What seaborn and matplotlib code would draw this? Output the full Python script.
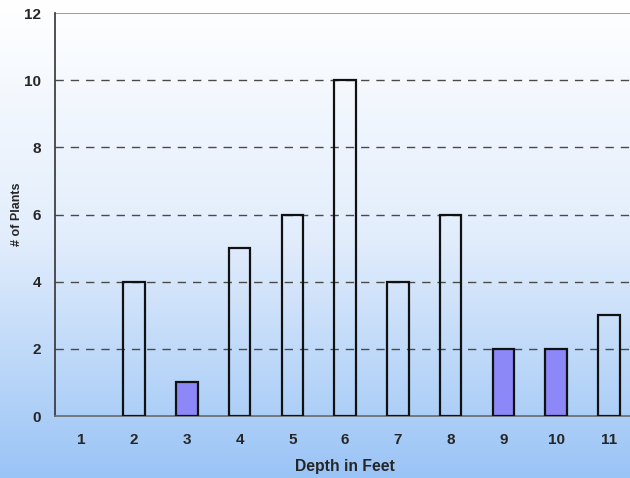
import numpy as np
import pandas as pd
import matplotlib
matplotlib.use("Agg")
import matplotlib.pyplot as plt
import seaborn as sns
from matplotlib.colors import LinearSegmentedColormap

depths = ["1", "2", "3", "4", "5", "6", "7", "8", "9", "10", "11"]
plants = [0, 4, 1, 5, 6, 10, 4, 6, 2, 2, 3]
highlight = [False, False, True, False, False, False, False, False, True, True, False]

df = pd.DataFrame({"depth": depths, "plants": plants})

sns.set_style("white")
plt.rcParams["font.family"] = ["Liberation Sans", "DejaVu Sans"]

fig = plt.figure(figsize=(6.3, 4.78), dpi=100)

# background gradient over the whole figure
bg = fig.add_axes([0, 0, 1, 1], zorder=-10)
cmap = LinearSegmentedColormap.from_list("bg", ["#FFFFFF", "#E2EDFC", "#9AC4F6"])
grad = np.linspace(0, 1, 256).reshape(-1, 1)
bg.imshow(grad, aspect="auto", cmap=cmap, extent=[0, 1, 0, 1], origin="upper")
bg.axis("off")

ax = fig.add_axes([0.0873, 0.1297, 0.921, 0.8431])
ax.patch.set_alpha(0)

sns.barplot(data=df, x="depth", y="plants", ax=ax, width=0.41,
            color="white", edgecolor="#111111", linewidth=1.6, zorder=3)
for p, h, v in zip(ax.patches, highlight, plants):
    if h:
        p.set_facecolor("#8C88F7")
    else:
        p.set_facecolor((1, 1, 1, 0))
    if v == 0:
        p.set_edgecolor((0, 0, 0, 0))

ax.set_ylim(0, 12)
ax.set_xlim(-0.5, 10.5)
ax.set_yticks(range(0, 13, 2))
for y in range(2, 12, 2):
    ax.axhline(y, color="#4a4a4a", linestyle=(0, (6, 5)), linewidth=1.0, zorder=1)
ax.axhline(12, color="#8a8a8a", linewidth=1.2, zorder=1)

for s in ["top", "right"]:
    ax.spines[s].set_visible(False)
ax.spines["left"].set_color("#333333")
ax.spines["left"].set_linewidth(1.2)
ax.spines["bottom"].set_color("#6a6a6a")
ax.spines["bottom"].set_linewidth(1.2)

# x ticks between categories
ax.set_xticks(np.arange(0.5, 10.5, 1), minor=True)
ax.tick_params(axis="x", which="minor", length=5, width=1, color="#333333", direction="out")
ax.tick_params(axis="x", which="major", length=0, pad=12)
ax.tick_params(axis="y", length=5, width=1, color="#333333", direction="out", pad=5)
for lbl in ax.get_xticklabels() + ax.get_yticklabels():
    lbl.set_fontweight("bold")
    lbl.set_fontsize(11)

ax.set_xlabel("Depth in Feet", fontsize=11.3, fontweight="bold", labelpad=9)
ax.set_ylabel("# of Plants", fontsize=9, fontweight="bold")
ax.yaxis.set_label_coords(-0.056, 0.5)
ax.grid(False)

fig.savefig("out.png", dpi=100)
